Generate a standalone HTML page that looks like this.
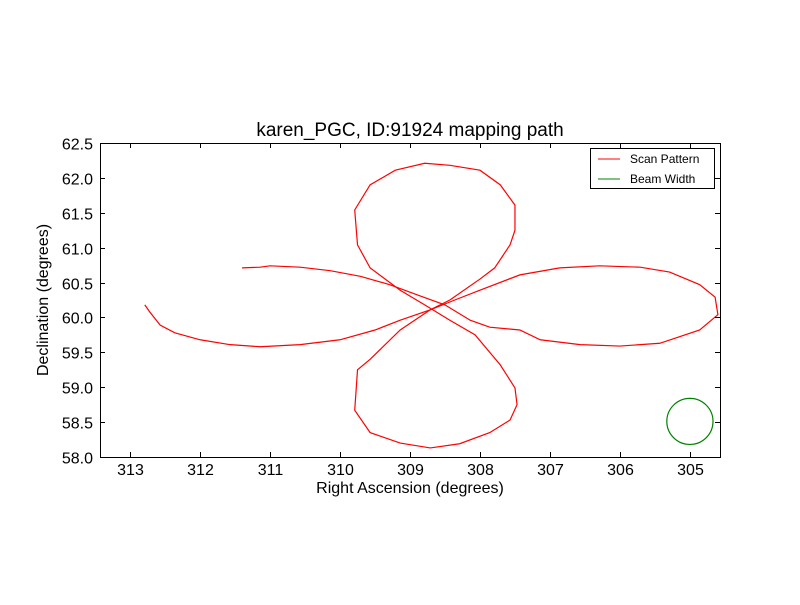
<!DOCTYPE html>
<html><head><meta charset="utf-8"><style>
body{margin:0;background:#fff}
svg text{font-family:"Liberation Sans","DejaVu Sans",sans-serif;fill:#000}
</style></head><body>
<svg id="chart" width="800" height="600">
<rect width="800" height="600" fill="#fff"/>
<text x="410" y="136" font-size="19" text-anchor="middle">karen_PGC, ID:91924 mapping path</text>
<g id="plot"></g>
<text x="410" y="493" font-size="16" text-anchor="middle">Right Ascension (degrees)</text>
<text transform="translate(48,300) rotate(-90)" font-size="16" text-anchor="middle">Declination (degrees)</text>
<g>
<rect x="590.5" y="148.5" width="124" height="40" fill="#fff" stroke="#000"/>
<line x1="598" y1="159" x2="620" y2="159" stroke="red"/>
<text x="630" y="163" font-size="12">Scan Pattern</text>
<line x1="598" y1="179" x2="620" y2="179" stroke="green"/>
<text x="630" y="183" font-size="12">Beam Width</text>
</g>
</svg>
<script>
const xTicks=[313,312,311,310,309,308,307,306,305];
const yTicks=[58.0,58.5,59.0,59.5,60.0,60.5,61.0,61.5,62.0,62.5];
const raPath1=[311.40,311.14,311.0,310.57,310.14,309.71,309.29,308.86,308.5,308.14,307.86,307.43,307.14,306.57,306.0,305.43,304.86,304.6,304.64,304.86,305.29,305.71,306.29,306.86,307.43,308.0,308.36,308.71,309.14,309.5,310.0,310.57,311.14,311.57,312.0,312.36,312.57,312.72,312.79];
const decPath1=[60.71,60.72,60.74,60.72,60.67,60.59,60.47,60.31,60.18,59.96,59.86,59.82,59.68,59.61,59.59,59.63,59.82,60.04,60.29,60.47,60.65,60.72,60.74,60.71,60.61,60.39,60.25,60.11,59.96,59.82,59.68,59.61,59.58,59.61,59.68,59.78,59.89,60.08,60.18];
const raPath2=[308.43,308.0,307.79,307.57,307.5,307.5,307.71,308.0,308.43,308.79,309.21,309.57,309.79,309.75,309.57,309.14,308.79,308.43,308.07,307.71,307.5,307.47,307.57,307.86,308.29,308.71,309.14,309.57,309.79,309.75,309.57,309.14,308.71,308.43];
const decPath2=[60.25,60.55,60.71,61.04,61.25,61.61,61.90,62.11,62.18,62.21,62.11,61.90,61.54,61.04,60.71,60.39,60.18,59.96,59.75,59.32,58.99,58.75,58.53,58.35,58.19,58.13,58.20,58.35,58.67,59.25,59.40,59.82,60.11,60.25];
const beamRA=[305.0], beamDec=[58.51], beamR=[0.33];
const L=100,R=720,T=143,B=457,xMin=313.43,xMax=304.57,yMin=58,yMax=62.5;
const X=v=>L+(v-xMin)/(xMax-xMin)*(R-L);
const Y=v=>B-(v-yMin)/(yMax-yMin)*(B-T);
const NS='http://www.w3.org/2000/svg';
const g=document.getElementById('plot');
function mk(t,a){const e=document.createElementNS(NS,t);for(const k in a)e.setAttribute(k,a[k]);g.appendChild(e);return e;}
const cp=mk('clipPath',{id:'clip'});const cr=document.createElementNS(NS,'rect');cr.setAttribute('x',L);cr.setAttribute('y',T);cr.setAttribute('width',R-L);cr.setAttribute('height',B-T);cp.appendChild(cr);
function line(ra,dec,name){const p=mk('polyline',{points:ra.map((r,i)=>X(r)+','+Y(dec[i])).join(' '),fill:'none',stroke:'red','stroke-width':1.2,'clip-path':'url(#clip)'});

}
line(raPath1,decPath1,'scan-path-horizontal');
line(raPath2,decPath2,'scan-path-vertical');
beamRA.forEach((r,i)=>{const c=mk('ellipse',{cx:X(r),cy:Y(beamDec[i]),rx:Math.abs(X(r+beamR[i])-X(r)),ry:Math.abs(Y(beamDec[i]+beamR[i])-Y(beamDec[i])),fill:'none',stroke:'green','stroke-width':1.2});

});
const fr=mk('rect',{x:L+0.5,y:T+0.5,width:R-L,height:B-T,fill:'none',stroke:'#000'});


xTicks.forEach(v=>{const x=Math.round(X(v))+0.5;mk('line',{x1:x,x2:x,y1:B,y2:B-5,stroke:'#000'});mk('line',{x1:x,x2:x,y1:T,y2:T+5,stroke:'#000'});
const t=mk('text',{x:x,y:B+18,'font-size':16,'text-anchor':'middle'});t.textContent=v;

});
yTicks.forEach(v=>{const y=Math.round(Y(v))+0.5;mk('line',{x1:L,x2:L+5,y1:y,y2:y,stroke:'#000'});mk('line',{x1:R,x2:R-5,y1:y,y2:y,stroke:'#000'});
const t=mk('text',{x:L-7,y:y+6,'font-size':16,'text-anchor':'end'});t.textContent=v.toFixed(1);

});
</script>
</body></html>
